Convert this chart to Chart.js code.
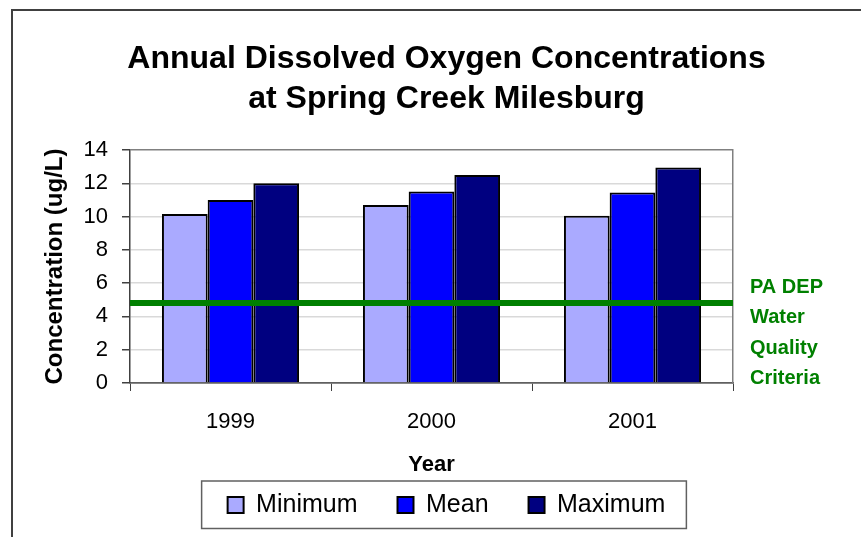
<!DOCTYPE html>
<html>
<head>
<meta charset="utf-8">
<script src="https://cdn.jsdelivr.net/npm/chart.js@4/dist/chart.umd.min.js"></script>
<style>
    html, body { margin: 0; padding: 0; background: #fff; }
    #wrap { width: 861px; height: 537px; position: relative; }
</style>
</head>
<body>
<div id="wrap"><canvas id="doChart"></canvas></div>
<script>
// ========================================
// Annual dissolved oxygen, Spring Creek Milesburg
// ========================================

const years = ['1999', '2000', '2001'];
const minimumValues = [10.15, 10.7, 10.05];
const meanValues = [11.0, 11.5, 11.45];
const maximumValues = [12.0, 12.5, 12.95];

const criteriaValue = 4.8;
const criteriaLabel = ['PA DEP', 'Water', 'Quality', 'Criteria'];

const yMin = 0;
const yMax = 14;
const yStep = 2;

const FONT = "'Liberation Sans', Arial, sans-serif";

// 外框、標準線、圖例框、右側文字
const decorations = {
    id: 'decorations',
    beforeDraw(chart) {
        const ctx = chart.ctx;
        ctx.save();
        ctx.fillStyle = '#fff';
        ctx.fillRect(0, 0, chart.width, chart.height);
        ctx.restore();
    },
    afterDatasetsDraw(chart) {
        const ctx = chart.ctx;
        const area = chart.chartArea;
        const y = chart.scales.y.getPixelForValue(criteriaValue);
        ctx.save();
        ctx.strokeStyle = '#008000';
        ctx.lineWidth = 6;
        ctx.beginPath();
        ctx.moveTo(area.left, y);
        ctx.lineTo(area.right, y);
        ctx.stroke();
        ctx.restore();
    },
    afterDraw(chart) {
        const ctx = chart.ctx;
        const area = chart.chartArea;
        ctx.save();

        // outer frame (runs off right and bottom edge)
        ctx.strokeStyle = '#404040';
        ctx.lineWidth = 2;
        ctx.strokeRect(12, 10, 1000, 1000);

        // legend box
        const boxes = chart.legend.legendHitBoxes;
        if (boxes && boxes.length) {
            const first = boxes[0];
            const last = boxes[boxes.length - 1];
            const left = first.left - 26;
            const right = last.left + last.width + 21;
            const top = first.top - 11.5;
            const bottom = first.top + first.height + 11;
            ctx.strokeStyle = '#606060';
            ctx.lineWidth = 1.5;
            ctx.strokeRect(left, top, right - left, bottom - top);
        }

        // criteria label
        ctx.fillStyle = '#008000';
        ctx.font = 'bold 20px ' + FONT;
        ctx.textAlign = 'left';
        ctx.textBaseline = 'middle';
        criteriaLabel.forEach((line, i) => {
            ctx.fillText(line, area.right + 17, area.top + 137 + i * 30.5);
        });
        ctx.restore();
    }
};

const ctx = document.getElementById('doChart').getContext('2d');
new Chart(ctx, {
    type: 'bar',
    data: {
        labels: years,
        datasets: [
            {
                label: 'Minimum',
                data: minimumValues,
                backgroundColor: '#aaaaff',
                borderColor: '#000000',
                borderWidth: 2,
                yAxisID: 'y'
            },
            {
                label: 'Mean',
                data: meanValues,
                backgroundColor: '#0000ff',
                borderColor: '#000000',
                borderWidth: 2,
                yAxisID: 'y'
            },
            {
                label: 'Maximum',
                data: maximumValues,
                backgroundColor: '#000080',
                borderColor: '#000000',
                borderWidth: 2,
                yAxisID: 'y'
            }
        ]
    },
    options: {
        responsive: true,
        maintainAspectRatio: false,
        animation: false,
        devicePixelRatio: 1,
        categoryPercentage: 0.682,
        barPercentage: 1,
        layout: {
            padding: { left: 32, right: 0, top: 0, bottom: 9.5 }
        },
        scales: {
            x: {
                grid: {
                    offset: true,
                    drawOnChartArea: false,
                    drawTicks: true,
                    tickLength: 8,
                    tickColor: '#404040'
                },
                border: {
                    color: '#606060',
                    width: 1.5
                },
                ticks: {
                    color: '#000',
                    padding: 18,
                    font: { family: FONT, size: 22 }
                },
                title: {
                    display: true,
                    text: 'Year',
                    color: '#000',
                    padding: { top: 0, bottom: -25.7 },
                    font: { family: FONT, size: 22, weight: 'bold' }
                },
                afterFit(scale) {
                    scale.height = 69.5;
                }
            },
            y: {
                position: 'left',
                min: yMin,
                max: yMax,
                ticks: {
                    stepSize: yStep,
                    color: '#000',
                    padding: 14,
                    font: { family: FONT, size: 22 }
                },
                grid: {
                    color: (c) => {
                        const v = c.tick ? c.tick.value : null;
                        if (v === yMax) return '#808080';
                        if (v === yMin) return '#606060';
                        return '#d9d9d9';
                    },
                    lineWidth: 1.5,
                    tickLength: 8,
                    tickColor: '#404040'
                },
                border: {
                    color: '#404040',
                    width: 1.5
                },
                title: {
                    display: true,
                    text: 'Concentration (ug/L)',
                    color: '#000',
                    padding: { top: 9, bottom: 0 },
                    font: { family: FONT, size: 24, weight: 'bold' }
                },
                afterFit(scale) {
                    scale.width = 98;
                }
            },
            y2: {
                position: 'right',
                min: yMin,
                max: yMax,
                ticks: { display: false },
                grid: { display: false },
                border: {
                    display: true,
                    color: '#808080',
                    width: 1.5
                },
                afterFit(scale) {
                    scale.width = 128;
                }
            }
        },
        plugins: {
            title: {
                display: true,
                text: ['Annual Dissolved Oxygen Concentrations', 'at Spring Creek Milesburg'],
                color: '#000',
                padding: { top: 39, bottom: 31 },
                font: { family: FONT, size: 32, weight: 'bold', lineHeight: 1.25 }
            },
            legend: {
                position: 'bottom',
                labels: {
                    color: '#000',
                    boxWidth: 16,
                    boxHeight: 16,
                    padding: 40,
                    font: { family: FONT, size: 25 }
                }
            },
            tooltip: { enabled: false }
        }
    },
    plugins: [decorations]
});
</script>
</body>
</html>
